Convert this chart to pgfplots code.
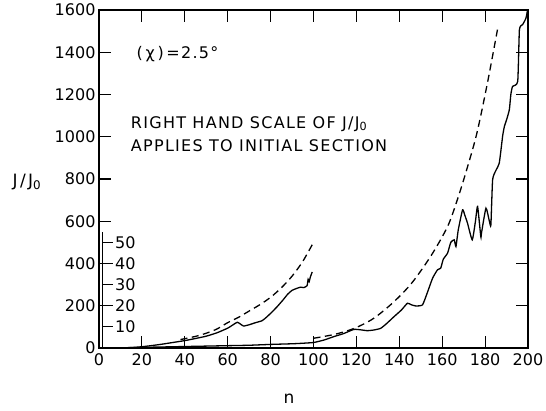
\documentclass[border=0pt]{standalone}
\usepackage{pgfplots}
\usepackage{pgfplotstable}
\pgfplotsset{compat=1.18}
\usepackage{fontspec}
\setmainfont{DejaVu Sans}
\newfontfamily\lettering[LetterSpace=8]{DejaVu Sans}
\newfontfamily\labelfont[LetterSpace=14]{DejaVu Sans}

% main curve J/J0 against n (left scale)
\pgfplotstableread{
n J
0 0
10 1
20 3
30 5
40 7
50 9
60 11
70 13
80 17
90 20
94 22
100 26
105 38
109.5 54
114 68
118.8 88
122 86
125 82
128 85
131.3 93
134 115
137.5 148
141 180
143.8 212
145.5 205
147.7 199
150.8 204
153 260
155.5 330
157.8 370
159.3 378
160.5 420
162.5 449
164 500
165.6 512
166.4 480
167.5 560
169.5 654
170.5 630
171.8 591
174 512
175.5 600
176.5 670
178 527
178.3 543
180.4 662
182 600
182.7 583
183.5 796
185 840
186.6 875
188.2 1005
189 1049
190 1080
191.3 1128
192 1200
192.8 1238
195.2 1262
196 1507
197.5 1531
199 1560
199.8 1600
}\mainsolid

\pgfplotstableread{
n J
100 46
110 65
119 93
128 140
137.5 219
146 310
155 440
162.5 575
167 700
171 830
176 1010
181 1250
186 1520
}\maindashed

% initial section, right hand scale (0-50)
\pgfplotstableread{
n R
10 0
15 0.2
20 0.6
25 1.2
30 1.9
35 2.7
40 3.5
45 4.5
50 5.6
55 7.2
60 9.4
62.8 11.2
64.5 12.2
66 11.3
67.4 10.4
70 11.0
73 12.0
76 12.9
78 14.5
80 16.4
83 19.5
86 23.0
88 25.5
90 27.3
92.4 28.3
94 28.8
95.5 28.6
97 29.5
97.5 32.5
98 31.5
98.5 33.5
99.4 36.0
}\initsolid

\pgfplotstableread{
n R
38 4.0
45 5.5
50 7
55 9
60 12
65 14.5
70 17.5
75 20.5
80 24
85 28.5
90 34
95 41
100 50
}\initdashed

\begin{document}
\begin{tikzpicture}[x=1pt,y=1pt]
\path[use as bounding box] (-99,-62) rectangle (447,348);
\begin{axis}[
  at={(0,0)}, anchor=south west,
  scale only axis, width=429pt, height=338pt,
  xmin=0, xmax=200, ymin=0, ymax=1600,
  xtick={0,20,...,200}, ytick={0,200,...,1600},
  tick align=inside, major tick length=12pt,
  axis line style={line width=1.3pt},
  tick style={line width=1.1pt, black},
  ticklabel style={font=\fontsize{16}{18}\selectfont},
  xticklabel style={yshift=-2pt},
  /pgf/number format/assume math mode=true,
  /pgf/number format/set thousands separator={},
  xlabel={n}, ylabel={J/J\textsubscript{0}},
  label style={font=\labelfont\fontsize{17}{18}\selectfont},
  xlabel style={at={(axis description cs:0.443,-0.151)}, anchor=center},
  ylabel style={rotate=-90, at={(axis description cs:-0.168,0.491)}, anchor=center},
  every axis plot/.append style={black, line width=1.3pt},
]
\addplot[smooth, tension=0.3] table[x=n, y=J] {\mainsolid};
\addplot[smooth, dash pattern=on 7pt off 4.5pt] table[x=n, y=J] {\maindashed};
\addplot[smooth, tension=0.3] table[x=n, y expr=10*\thisrow{R}] {\initsolid};
\addplot[smooth, dash pattern=on 7pt off 4.5pt] table[x=n, y expr=10*\thisrow{R}] {\initdashed};

% right hand scale for the initial section
\draw[line width=1.1pt] (axis cs:1.7,0) -- (axis cs:1.7,551);
\draw[line width=1.1pt] (axis cs:1.7,100) -- ++(10pt,0) node[anchor=west, inner sep=2pt, font=\fontsize{16}{18}\selectfont] {10};
\draw[line width=1.1pt] (axis cs:1.7,200) -- ++(10pt,0) node[anchor=west, inner sep=2pt, font=\fontsize{16}{18}\selectfont] {20};
\draw[line width=1.1pt] (axis cs:1.7,300) -- ++(10pt,0) node[anchor=west, inner sep=2pt, font=\fontsize{16}{18}\selectfont] {30};
\draw[line width=1.1pt] (axis cs:1.7,400) -- ++(10pt,0) node[anchor=west, inner sep=2pt, font=\fontsize{16}{18}\selectfont] {40};
\draw[line width=1.1pt] (axis cs:1.7,500) -- ++(10pt,0) node[anchor=west, inner sep=2pt, font=\fontsize{16}{18}\selectfont] {50};

\node[anchor=west, inner sep=0pt, font=\lettering\fontsize{16}{20}\selectfont] at (axis cs:17.5,1389) {(\,χ\,)\,=2.5°};
\node[anchor=base west, inner sep=0pt, font=\lettering\fontsize{16}{20}\selectfont] at (axis cs:14.8,1041) {RIGHT HAND SCALE OF J/J\textsubscript{0}};
\node[anchor=base west, inner sep=0pt, font=\lettering\fontsize{16}{20}\selectfont] at (axis cs:14.8,930) {APPLIES TO INITIAL SECTION};
\end{axis}
\end{tikzpicture}
\end{document}
